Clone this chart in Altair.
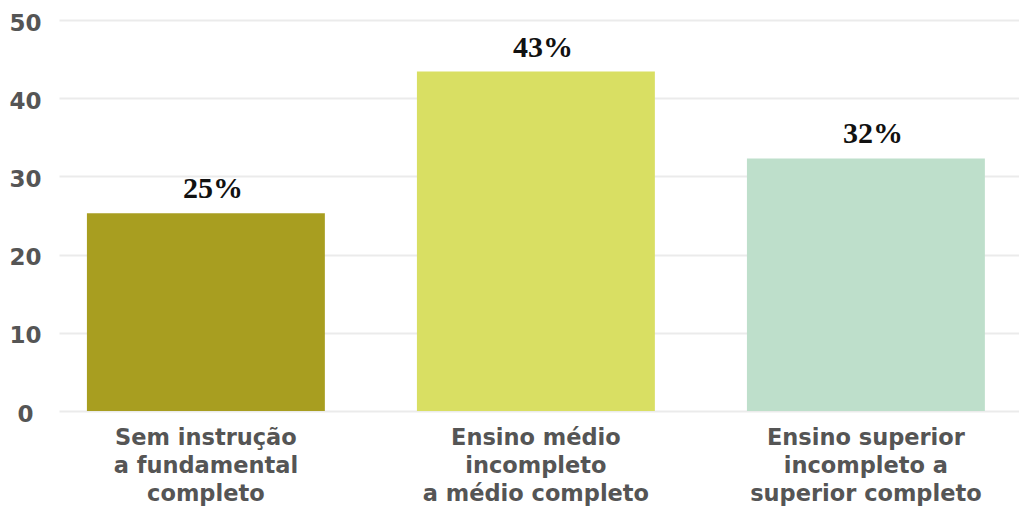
import altair as alt
import pandas as pd

categories = ["Sem instrução|a fundamental|completo",
              "Ensino médio|incompleto|a médio completo",
              "Ensino superior|incompleto a|superior completo"]
values = [25.3, 43.4, 32.3]
labels = ["25%", "43%", "32%"]
colors = ["#A89E20", "#D9DF63", "#BEDFCB"]

df = pd.DataFrame({"cat": categories, "val": values, "lab": labels})

font = "DejaVu Sans"

base = alt.Chart(df).encode(
    x=alt.X("cat:N", sort=categories, title=None,
            scale=alt.Scale(paddingInner=0.279, paddingOuter=0.094, align=0.45),
            axis=alt.Axis(labelAngle=0, labelExpr="split(datum.label, '|')",
                          labelFont=font, labelFontSize=22.5, labelFontWeight="bold",
                          labelColor="#555555", labelLineHeight=28,
                          labelPadding=15, ticks=False, domain=False,
                          grid=False, labelLimit=400)),
)

bars = base.mark_bar().encode(
    y=alt.Y("val:Q", title=None,
            scale=alt.Scale(domain=[0, 50], nice=False),
            axis=alt.Axis(values=[0, 10, 20, 30, 40, 50], labelFont=font,
                          labelFontSize=23, labelFontWeight="bold",
                          labelColor="#555555", labelPadding=34,
                          labelAlign="center",
                          ticks=False, domain=False, gridColor="#ebebeb",
                          gridWidth=2, labelBaseline="middle", labelOffset=3)),
    color=alt.Color("cat:N", sort=categories,
                    scale=alt.Scale(domain=categories, range=colors),
                    legend=None),
)

text = base.mark_text(font="Liberation Serif", fontWeight="bold", fontSize=30,
                      baseline="alphabetic", dy=-15, dx=7, color="#111111").encode(
    y=alt.Y("val:Q"),
    text="lab:N",
)

chart = (bars + text).properties(
    width=960, height=391,
    padding={"left": 59, "top": 20, "right": 0, "bottom": 95},
    autosize=alt.AutoSizeParams(type="none"),
).configure_view(stroke=None)

chart.save("out.html", embed_options={"renderer": "svg", "actions": False})
